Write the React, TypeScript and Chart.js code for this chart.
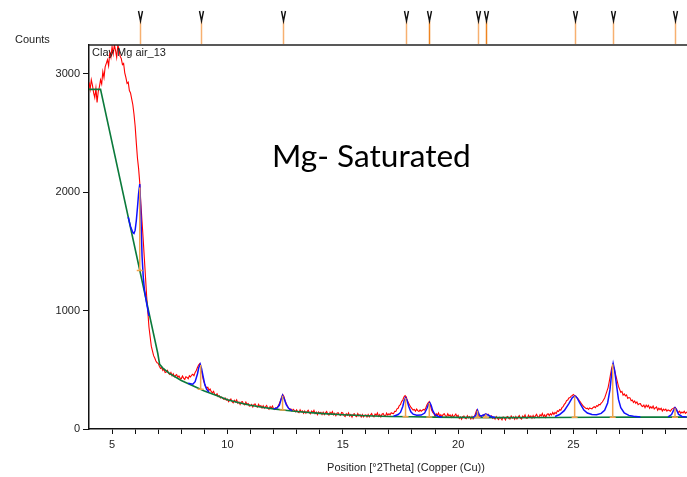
import React, { useEffect, useRef } from "react";
import { Chart, registerables } from "chart.js";
Chart.register(...registerables);

// Observed scan (counts), 4.00 to 29.95 °2θ, step 0.05 (one row per degree)
const SCAN_START = 4.0;
const SCAN_STEP = 0.05;
const observed = [
  2930, 2870, 2950, 2905, 2840, 2800, 2880, 2760, 2850, 2890, 2950, 2915, 3020, 2970, 3060, 3090, 3120, 3070, 3180, 3140,
  3230, 3170, 3245, 3200, 3140, 3245, 3210, 3150, 3130, 3080, 3090, 3010, 2970, 2920, 2930, 2860, 2840, 2790, 2740, 2660,
  2560, 2420, 2290, 2200, 2080, 1900, 1750, 1600, 1440, 1280, 1120, 990, 860, 780, 700, 660, 620, 600, 575, 560,
  555, 530, 512, 520, 494, 505, 478, 482, 496, 470, 462, 478, 450, 466, 441, 452, 460, 436, 448, 430,
  425, 448, 430, 418, 442, 436, 425, 450, 440, 456, 462, 450, 478, 495, 520, 540, 552, 510, 470, 420,
  388, 360, 348, 352, 326, 338, 316, 305, 318, 292, 286, 298, 274, 280, 262, 270, 258, 250, 262, 244,
  253, 231, 244, 254, 231, 221, 243, 229, 247, 218, 229, 207, 228, 231, 212, 204, 227, 208, 215, 194,
  196, 207, 186, 207, 211, 192, 185, 208, 190, 197, 177, 196, 175, 188, 199, 176, 167, 189, 176, 194,
  172, 165, 180, 176, 195, 215, 240, 270, 290, 275, 240, 215, 195, 178, 165, 170, 152, 166, 158, 145,
  162, 144, 138, 162, 144, 153, 133, 153, 133, 147, 158, 137, 128, 151, 139, 158, 130, 143, 122, 144,
  133, 141, 122, 142, 122, 136, 147, 126, 117, 141, 128, 147, 120, 132, 112, 134, 138, 121, 114, 139,
  135, 114, 105, 129, 117, 136, 109, 122, 101, 124, 129, 111, 105, 130, 112, 121, 102, 122, 102, 117,
  120, 101, 122, 103, 118, 130, 110, 102, 126, 115, 135, 108, 122, 102, 125, 131, 114, 108, 134, 117,
  128, 120, 138, 132, 130, 150, 148, 170, 175, 198, 205, 232, 245, 270, 282, 272, 240, 220, 200, 185,
  172, 160, 165, 150, 168, 155, 148, 162, 150, 158, 165, 160, 180, 205, 222, 232, 200, 160, 140, 130,
  106, 129, 117, 136, 109, 121, 101, 123, 128, 110, 104, 128, 111, 119, 100, 120, 100, 114, 126, 104,
  116, 89, 102, 82, 105, 110, 93, 87, 112, 95, 104, 85, 106, 86, 101, 130, 158, 135, 112, 96,
  108, 116, 110, 122, 128, 119, 124, 108, 102, 110, 90, 99, 84, 105, 92, 80, 98, 91, 78, 102,
  97, 77, 101, 106, 89, 84, 109, 92, 102, 83, 105, 85, 100, 113, 92, 84, 109, 97, 118, 91,
  91, 117, 101, 111, 92, 114, 95, 111, 124, 104, 96, 121, 110, 131, 105, 119, 99, 123, 129, 113,
  130, 118, 140, 124, 140, 130, 154, 148, 164, 158, 180, 188, 208, 218, 240, 244, 262, 266, 278, 283,
  292, 280, 278, 266, 255, 240, 228, 212, 200, 188, 180, 172, 176, 165, 178, 174, 170, 182, 188, 180,
  196, 192, 208, 204, 218, 228, 245, 262, 290, 320, 350, 400, 455, 510, 545, 520, 480, 440, 400, 360,
  335, 310, 318, 286, 296, 280, 288, 259, 266, 263, 239, 245, 224, 237, 218, 229, 206, 213, 214, 196,
  190, 202, 180, 202, 187, 200, 175, 188, 176, 194, 169, 178, 186, 159, 175, 164, 175, 152, 168, 158,
  168, 152, 162, 156, 150, 166, 172, 178, 182, 172, 152, 140, 150, 132, 144, 136, 150, 132, 141, 146,
];

// Background (green)
const backgroundX = [4.0, 4.5, 6.98, 7.06, 7.2, 7.5, 8.0, 8.5, 9.0, 9.5, 10, 10.5, 11, 11.5, 12, 12.5, 13, 14, 15, 16, 17, 18, 19, 20, 22, 24, 26, 28, 29.92];
const backgroundY = [2870, 2870, 640, 548, 515, 468, 410, 365, 322, 285, 248, 222, 200, 184, 170, 158, 148, 132, 120, 112, 106, 103, 100, 98, 96, 97, 99, 100, 100];

// Calculated profile (blue), segments separated by null
const calcX = [
  5.7, 5.8, 5.9, 5.95, 6.0, 6.05, 6.1, 6.15, 6.2, 6.25, 6.3, 6.35, 6.4, 6.5, 6.6,
  7.5,
  8.3, 8.5, 8.6, 8.7, 8.76, 8.82, 8.88, 8.95, 9.02, 9.1, 9.2,
  10.5,
  12.0, 12.15, 12.25, 12.32, 12.39, 12.46, 12.55, 12.65, 12.8,
  15.0,
  17.2, 17.4, 17.5, 17.6, 17.66, 17.72, 17.78, 17.86, 17.95, 18.05, 18.2, 18.4, 18.55, 18.65, 18.72, 18.77, 18.83, 18.9, 19.0, 19.15, 19.3,
  20.0,
  20.65, 20.76, 20.84, 20.92, 21.0, 21.1, 21.2, 21.3, 21.45, 21.6,
  23.0,
  24.2, 24.4, 24.6, 24.8, 24.95, 25.06, 25.15, 25.3, 25.45, 25.6, 25.8, 26.0, 26.2, 26.35, 26.48, 26.58, 26.66, 26.72, 26.78, 26.86, 26.95, 27.05, 27.2, 27.4, 27.6, 27.9,
  28.5,
  29.1, 29.25, 29.33, 29.4, 29.47, 29.55, 29.7, 29.9,
];
const calcY = [
  1790, 1712, 1660, 1652, 1680, 1760, 1870, 1990, 2070, 1800, 1460, 1290, 1180, 1060, 955,
  null,
  386, 378, 400, 465, 520, 548, 510, 440, 375, 335, 312,
  null,
  170, 178, 200, 245, 285, 255, 205, 175, 155,
  null,
  108, 122, 140, 190, 240, 265, 245, 190, 145, 125, 116, 118, 135, 175, 212, 223, 200, 155, 120, 106, 101,
  null,
  98, 112, 158, 118, 108, 118, 126, 118, 104, 97,
  null,
  106, 122, 155, 215, 265, 280, 265, 210, 160, 135, 122, 120, 132, 158, 220, 330, 480, 553, 500, 380, 250, 180, 135, 115, 107, 102,
  null,
  103, 122, 155, 180, 160, 125, 106, 101,
];

// Identified peaks
const peakPos = [6.2, 8.84, 12.39, 17.72, 18.75, 20.84, 21.2, 25.05, 26.7, 29.4];
const peakBase = [1340, 336, 161, 104, 102, 98, 97, 99, 99, 100];
const peakTop = [2040, 540, 280, 262, 220, 155, 125, 276, 548, 176];
const peakMarkerDark = [false, false, false, false, true, false, true, false, false, false];

const xTickValues = [5, 6, 7, 8, 9, 10, 11, 12, 13, 14, 15, 16, 17, 18, 19, 20, 21, 22, 23, 24, 25, 26, 27, 28, 29];
const xLabelEvery = 5;
const yTickValues = [0, 1000, 2000, 3000];

const SAMPLE_NAME = "Clay Mg air_13";
const ANNOTATION = "Mg- Saturated";
const Y_TITLE = "Counts";
const X_TITLE = "Position [°2Theta] (Copper (Cu))";

const FONT = '"Liberation Sans", Arial, sans-serif';

const decor = {
  id: "decor",
  afterDatasetsDraw(chart: any) {
    const { ctx, scales } = chart;
    const xs = scales.x;
    const ys = scales.y;
    ctx.save();
    ctx.strokeStyle = "#f2a24a";
    ctx.lineWidth = 1.5;
    for (let i = 0; i < peakPos.length; i++) {
      const x = xs.getPixelForValue(peakPos[i]);
      const y0 = ys.getPixelForValue(peakBase[i]);
      const y1 = ys.getPixelForValue(peakTop[i]);
      ctx.beginPath();
      ctx.moveTo(x, y0);
      ctx.lineTo(x, y1);
      ctx.moveTo(x - 3, y0);
      ctx.lineTo(x + 3, y0);
      ctx.stroke();
    }
    ctx.restore();
  },
  afterDraw(chart: any) {
    const { ctx, chartArea, scales } = chart;
    const xs = scales.x;
    ctx.save();
    // top border
    ctx.strokeStyle = "#222";
    ctx.lineWidth = 1.5;
    ctx.beginPath();
    ctx.moveTo(chartArea.left, chartArea.top);
    ctx.lineTo(chartArea.right, chartArea.top);
    ctx.stroke();
    // reference markers above the plot
    for (let i = 0; i < peakPos.length; i++) {
      const x = Math.round(xs.getPixelForValue(peakPos[i])) + 0.5;
      ctx.strokeStyle = peakMarkerDark[i] ? "#ee8420" : "#f7b070";
      ctx.lineWidth = 1.5;
      ctx.beginPath();
      ctx.moveTo(x, 21);
      ctx.lineTo(x, chartArea.top - 1);
      ctx.stroke();
      ctx.strokeStyle = "#111";
      ctx.lineWidth = 1.4;
      ctx.beginPath();
      ctx.moveTo(x - 2, 11);
      ctx.lineTo(x, 21);
      ctx.lineTo(x + 2, 11);
      ctx.stroke();
    }
    // texts
    ctx.fillStyle = "#222";
    ctx.font = `11px ${FONT}`;
    ctx.textBaseline = "middle";
    ctx.textAlign = "left";
    ctx.fillText(Y_TITLE, 15, 40);
    ctx.fillText(SAMPLE_NAME, chartArea.left + 3, 53);
    ctx.textAlign = "center";
    ctx.fillText(X_TITLE, 406, 468);
    // annotation
    ctx.fillStyle = "#000";
    ctx.textAlign = "left";
    ctx.textBaseline = "alphabetic";
    ctx.font = `30px Lato, "Open Sans", sans-serif`;
    const w = ctx.measureText(ANNOTATION).width;
    const size = 30 * 199 / w;
    ctx.font = `${size.toFixed(1)}px Lato, "Open Sans", sans-serif`;
    ctx.fillText(ANNOTATION, 272, 167);
    ctx.restore();
  },
};

export default function App() {
  const ref = useRef<HTMLCanvasElement>(null);
  useEffect(() => {
    const obsData = observed.map((y, i) => ({ x: +(SCAN_START + i * SCAN_STEP).toFixed(2), y }));
    const bgData = backgroundX.map((x, i) => ({ x, y: backgroundY[i] }));
    const calcData = calcX.map((x, i) => ({ x, y: calcY[i] }));
    const chart = new Chart(ref.current as HTMLCanvasElement, {
      type: "line",
      data: {
        datasets: [
          { data: calcData, borderColor: "#1010ff", borderWidth: 1.5, pointRadius: 0, spanGaps: false, order: 0, tension: 0 },
          { data: bgData, borderColor: "#0b7a3b", borderWidth: 1.6, pointRadius: 0, order: 1, tension: 0 },
          { data: obsData, borderColor: "#ff0000", borderWidth: 1.1, pointRadius: 0, order: 2, tension: 0 },
        ],
      } as any,
      options: {
        animation: false,
        responsive: false,
        devicePixelRatio: 1,
        layout: { padding: { top: 45, left: 0, right: 0, bottom: 0 } },
        plugins: { legend: { display: false }, tooltip: { enabled: false } },
        scales: {
          x: {
            type: "linear",
            min: 4,
            max: 29.92,
            afterBuildTicks: (s: any) => {
              s.ticks = xTickValues.map((v) => ({ value: v }));
            },
            afterFit: (s: any) => {
              s.height = 48;
            },
            grid: { drawOnChartArea: false, drawTicks: true, tickLength: 5, color: "#111", lineWidth: 1 },
            border: { display: true, color: "#111", width: 1.5 },
            ticks: {
              callback: (v: any) => (Number(v) % xLabelEvery === 0 ? String(v) : ""),
              font: { family: FONT, size: 11 },
              color: "#222",
              maxRotation: 0,
              autoSkip: false,
              padding: 4,
            },
          },
          y: {
            type: "linear",
            min: 0,
            max: 3245,
            afterBuildTicks: (s: any) => {
              s.ticks = yTickValues.map((v) => ({ value: v }));
            },
            afterFit: (s: any) => {
              s.width = 89;
            },
            grid: { drawOnChartArea: false, drawTicks: true, tickLength: 6, color: "#111", lineWidth: 1 },
            border: { display: true, color: "#111", width: 1.5 },
            ticks: {
              callback: (v: any) => String(v),
              font: { family: FONT, size: 11 },
              color: "#222",
              padding: 3,
            },
          },
        },
      } as any,
      plugins: [decor],
    });
    return () => chart.destroy();
  }, []);
  return (
    <div style={{ position: "fixed", left: 0, top: 0, width: 687, height: 477, background: "#fff" }}>
      <canvas ref={ref} width={687} height={477} style={{ display: "block" }} />
    </div>
  );
}
